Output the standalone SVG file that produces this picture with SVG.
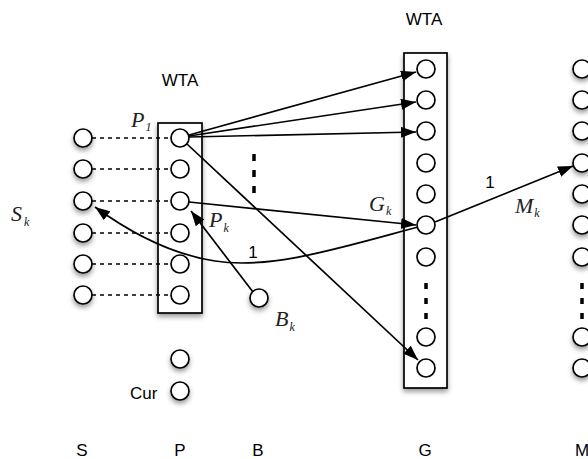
<svg xmlns="http://www.w3.org/2000/svg" width="588" height="459" viewBox="0 0 588 459">
<style>
.n{fill:#fff;stroke:#000;stroke-width:1.7}
.box{fill:#fff;stroke:#000;stroke-width:1.7}
.e{fill:none;stroke:#000;stroke-width:1.7}
.dot{fill:none;stroke:#000;stroke-width:1.5;stroke-dasharray:4 4}
.vd{fill:none;stroke:#000;stroke-width:3.5}
.s{font-family:"Liberation Sans",Arial,sans-serif;font-size:17px;fill:#000}
.it{font-family:"Liberation Serif","Times New Roman",serif;font-style:italic;font-size:22px;fill:#222}
.sub{font-size:12px}
.sh{filter:url(#shadow)}
</style>
<defs>
<filter id="shadow" x="-50%" y="-50%" width="200%" height="200%">
<feDropShadow dx="0" dy="3" stdDeviation="2.5" flood-color="#000" flood-opacity="0.4"/>
</filter>
<marker id="ah" markerWidth="15" markerHeight="11" refX="15" refY="5.5" orient="auto" markerUnits="userSpaceOnUse">
<path d="M0,0 L15,5.5 L0,11 z" fill="#000"/>
</marker>
</defs>
<rect width="588" height="459" fill="#fff"/>

<g id="S" class="sh">
<circle class="n" cx="83" cy="138" r="9"/>
<circle class="n" cx="83" cy="169" r="9"/>
<circle class="n" cx="83" cy="201" r="9"/>
<circle class="n" cx="83" cy="233" r="9"/>
<circle class="n" cx="83" cy="264" r="9"/>
<circle class="n" cx="83" cy="295" r="9"/>
</g>

<g id="P">
<rect class="box sh" x="158" y="123" width="44" height="190"/>
<circle class="n" cx="180" cy="138" r="9"/>
<circle class="n" cx="180" cy="169" r="9"/>
<circle class="n" cx="180" cy="201" r="9"/>
<circle class="n" cx="180" cy="233" r="9"/>
<circle class="n" cx="180" cy="264" r="9"/>
<circle class="n" cx="180" cy="295" r="9"/>
</g>

<g id="Pextra" class="sh">
<circle class="n" cx="180" cy="359" r="9"/>
<circle class="n" cx="180" cy="391" r="9"/>
</g>

<g id="B" class="sh">
<circle class="n" cx="259" cy="298" r="9"/>
</g>

<g id="G">
<rect class="box sh" x="404" y="53" width="43" height="335"/>
<circle class="n" cx="426" cy="69" r="9"/>
<circle class="n" cx="426" cy="100" r="9"/>
<circle class="n" cx="426" cy="131" r="9"/>
<circle class="n" cx="426" cy="163" r="9"/>
<circle class="n" cx="426" cy="194" r="9"/>
<circle class="n" cx="426" cy="225" r="9"/>
<circle class="n" cx="426" cy="257" r="9"/>
<line class="vd" x1="426" y1="283" x2="426" y2="320" stroke-dasharray="6 9"/>
<circle class="n" cx="426" cy="337" r="9"/>
<circle class="n" cx="426" cy="368" r="9"/>
</g>

<g id="M">
<g class="sh">
<circle class="n" cx="582" cy="69" r="9"/>
<circle class="n" cx="582" cy="100" r="9"/>
<circle class="n" cx="582" cy="131" r="9"/>
<circle class="n" cx="582" cy="163" r="9"/>
<circle class="n" cx="582" cy="194" r="9"/>
<circle class="n" cx="582" cy="225" r="9"/>
<circle class="n" cx="582" cy="257" r="9"/>
<circle class="n" cx="582" cy="337" r="9"/>
<circle class="n" cx="582" cy="368" r="9"/>
</g>
<line class="vd" x1="582" y1="283" x2="582" y2="320" stroke-dasharray="6 9"/>
</g>

<g id="connectors">
<line class="dot" x1="92" y1="138" x2="171" y2="138"/>
<line class="dot" x1="92" y1="169" x2="171" y2="169"/>
<line class="dot" x1="92" y1="201" x2="171" y2="201"/>
<line class="dot" x1="92" y1="233" x2="171" y2="233"/>
<line class="dot" x1="92" y1="264" x2="171" y2="264"/>
<line class="dot" x1="92" y1="295" x2="171" y2="295"/>
<line class="vd" x1="254" y1="154" x2="254" y2="194" stroke-dasharray="7 9"/>
<line class="e" x1="189" y1="135" x2="416" y2="72" marker-end="url(#ah)"/>
<line class="e" x1="189" y1="136" x2="416" y2="102" marker-end="url(#ah)"/>
<line class="e" x1="189" y1="137" x2="416" y2="132" marker-end="url(#ah)"/>
<line class="e" x1="187" y1="144" x2="418" y2="360" marker-end="url(#ah)"/>
<line class="e" x1="189" y1="202" x2="416" y2="225" marker-end="url(#ah)"/>
<line class="e" x1="253" y1="292" x2="191" y2="211" marker-end="url(#ah)"/>
<line class="e" x1="435" y1="222" x2="573" y2="166" marker-end="url(#ah)"/>
<path class="e" d="M418,227 C340,248 270,270 215,261 C175,255 135,236 95,207" marker-end="url(#ah)"/>
</g>

<g id="labels">
<text class="s" x="180" y="86" text-anchor="middle" font-size="17">WTA</text>
<text class="s" x="424" y="25" text-anchor="middle" font-size="17">WTA</text>
<text class="it" x="131" y="127">P<tspan class="sub" dx="1" dy="4">1</tspan></text>
<text class="it" x="11" y="221">S<tspan class="sub" dx="2" dy="5">k</tspan></text>
<text class="it" x="209" y="227">P<tspan class="sub" dx="1" dy="5">k</tspan></text>
<text class="it" x="369" y="211">G<tspan class="sub" dx="1" dy="4">k</tspan></text>
<text class="it" x="515" y="213">M<tspan class="sub" dx="1" dy="4">k</tspan></text>
<text class="it" x="275" y="326">B<tspan class="sub" dx="1" dy="5">k</tspan></text>
<text class="s" x="253" y="258" text-anchor="middle" font-size="16">1</text>
<text class="s" x="490" y="188" text-anchor="middle" font-size="16">1</text>
<text class="s" x="130" y="399" font-size="16">Cur</text>
<text class="s" x="82" y="456" text-anchor="middle">S</text>
<text class="s" x="180" y="456" text-anchor="middle">P</text>
<text class="s" x="258" y="456" text-anchor="middle">B</text>
<text class="s" x="425" y="456" text-anchor="middle">G</text>
<text class="s" x="582" y="456" text-anchor="middle">M</text>
</g>
</svg>
